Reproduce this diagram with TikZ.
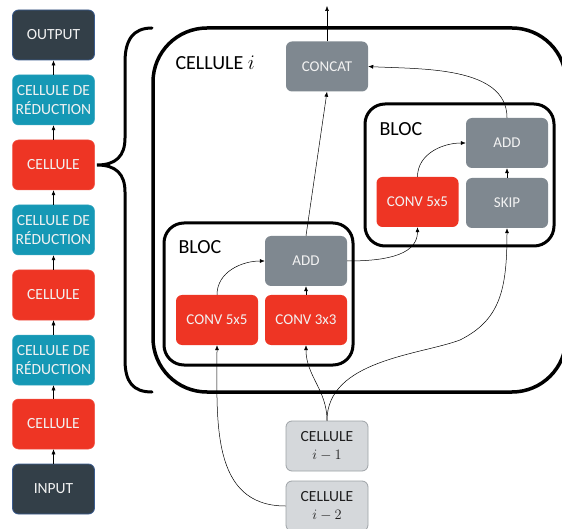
\documentclass[tikz,border=0pt]{standalone}
\usepackage{fontspec}
\setmainfont{Carlito}
\usetikzlibrary{arrows.meta}

\definecolor{slate}{HTML}{333F48}
\definecolor{slateedge}{HTML}{3B5C8F}
\definecolor{teal}{HTML}{1598B5}
\definecolor{tomato}{HTML}{EE3524}
\definecolor{steel}{HTML}{7F8890}
\definecolor{mist}{HTML}{D5D8DB}
\definecolor{mistedge}{HTML}{9EA3A7}

\tikzset{
  box/.style={rounded corners=6pt, minimum width=82pt, minimum height=50pt,
    inner sep=0pt, align=center, text=white!95!black,
    font=\fontsize{15}{18.5}\selectfont},
  stackbox/.style={box, font=\fontsize{15.5}{18.7}\selectfont},
  terminal/.style={stackbox, fill=slate, draw=slateedge, line width=0.8pt},
  reduction/.style={stackbox, fill=teal, draw=teal!85!white, line width=0.5pt},
  cellbox/.style={stackbox, fill=tomato, draw=tomato!85!white, line width=0.5pt},
  convbox/.style={box, fill=tomato},
  opbox/.style={box, fill=steel},
  prevbox/.style={box, fill=mist, draw=mistedge, line width=0.8pt, text=black!88,
    font=\fontsize{15.5}{18.7}\selectfont},
  frame/.style={draw=black, line width=3pt},
  title/.style={font=\fontsize{20}{23}\selectfont, anchor=west},
  link/.style={-{Latex[length=5pt,width=4pt]}, line width=0.5pt},
}

\begin{document}
\begin{tikzpicture}[x=1pt, y=-1pt]
\clip (0,0) rectangle (562,529);
\fill[white] (0,0) rectangle (562,529);

% network stack on the left
\node[terminal]  (out)  at (53.5,35)  {OUTPUT};
\node[reduction] (red3) at (53.5,100) {CELLULE DE\\RÉDUCTION};
\node[cellbox]   (c3)   at (53.5,165) {CELLULE};
\node[reduction] (red2) at (53.5,230) {CELLULE DE\\RÉDUCTION};
\node[cellbox]   (c2)   at (53.5,295) {CELLULE};
\node[reduction] (red1) at (53.5,360) {CELLULE DE\\RÉDUCTION};
\node[cellbox]   (c1)   at (53.5,424) {CELLULE};
\node[terminal]  (in)   at (53.5,489) {INPUT};

\foreach \a/\b in {in/c1, c1/red1, red1/c2, c2/red2, red2/c3, c3/red3, red3/out}
  \draw[link] (\a.north) -- (\b.south);

% brace expanding one cell
\draw[line width=3pt, line cap=round]
  (152,28) .. controls (133,28) and (125,40) .. (125,62)
  -- (125,138) .. controls (125,156) and (116,165) .. (97,165)
  .. controls (116,165) and (125,174) .. (125,192)
  -- (125,360) .. controls (125,382) and (133,392) .. (152,392);

% cell frame
\draw[frame, line width=3.5pt, rounded corners=54pt] (153,28) rectangle (566,392);
\node[title] (celltitle) at (172,63) {CELLULE $i$};

% upper block
\draw[frame, rounded corners=20pt] (365,104) rectangle (554,246);
\node[title] (bloc2) at (376,129) {BLOC};

% lower block
\draw[frame, rounded corners=20pt] (164,223) rectangle (353,365);
\node[title] (bloc1) at (175,247) {BLOC};

% operations
\node[opbox]   (concat) at (327,66.5) {CONCAT};
\node[opbox]   (add2)   at (507,143)  {ADD};
\node[convbox] (conv2)  at (417.5,202) {CONV 5x5};
\node[opbox]   (skip)   at (507,203)  {SKIP};
\node[opbox]   (add1)   at (306,261)  {ADD};
\node[convbox] (conv5)  at (217,320)  {CONV 5x5};
\node[convbox] (conv3)  at (306,320)  {CONV 3x3};

% previous cells
\node[prevbox] (pm1) at (327,446) {CELLULE\\$i-1$};
\node[prevbox] (pm2) at (327,506) {CELLULE\\$i-2$};

\coordinate (top) at (327,6);

% connections
\draw[link] (concat.north) -- (top);
\draw[link] (add1.north) -- (concat.south);
\draw[link] (add2.north) to[out=90, in=-3, looseness=0.9] (concat.east);
\draw[link] (conv2.north) to[out=90, in=180] (add2.west);
\draw[link] (skip.north) -- (add2.south);
\draw[link] (conv5.north) to[out=90, in=180] (add1.west);
\draw[link] (conv3.north) -- (add1.south);
\draw[link] (add1.east) to[out=0, in=-90] (conv2.south);
\draw[link] (pm1.north) to[out=90, in=-90] (conv3.south);
\draw[link] (pm1.north) .. controls (327,360) and (420,355) .. (460,340)
  .. controls (500,320) and (507,290) .. (skip.south);
\draw[link] (pm2.west) to[out=180, in=-90, looseness=1.1] (conv5.south);
\end{tikzpicture}
\end{document}
